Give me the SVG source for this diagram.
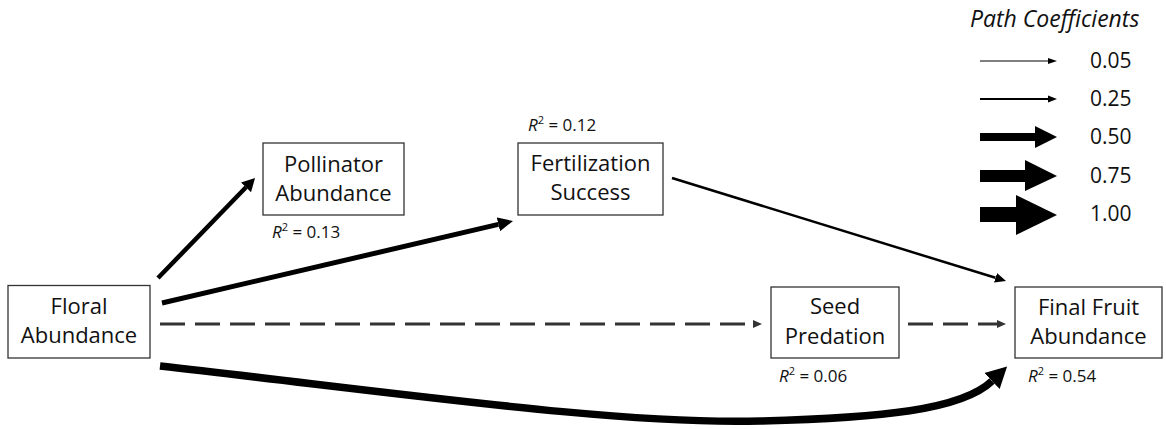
<svg xmlns="http://www.w3.org/2000/svg" width="1166" height="429" viewBox="0 0 1166 429">
<style>
.box{fill:#fff;stroke:#333;stroke-width:1.3}
.lbl{font-family:"Open Sans","Liberation Sans",sans-serif;font-size:22px;fill:#111;text-anchor:middle}
.r2{font-family:"Open Sans","Liberation Sans",sans-serif;font-size:17px;fill:#111}
.leg{font-family:"Open Sans","Liberation Sans",sans-serif;font-size:21px;fill:#111}
.legt{font-family:"Open Sans","Liberation Sans",sans-serif;font-size:23px;font-style:italic;fill:#111}
.solid{fill:none;stroke:#000}
.dash{fill:none;stroke:#333;stroke-width:3;stroke-dasharray:25 10}
</style>
<defs>
<marker id="hPol" markerUnits="userSpaceOnUse" markerWidth="14" markerHeight="16" refX="0" refY="8" orient="auto"><path d="M0,1 L13,8 L0,15 Z" fill="#000"/></marker>
<marker id="hFer" markerUnits="userSpaceOnUse" markerWidth="16" markerHeight="16" refX="0" refY="8" orient="auto"><path d="M0,1 L15,8 L0,15 Z" fill="#000"/></marker>
<marker id="hThin" markerUnits="userSpaceOnUse" markerWidth="12" markerHeight="12" refX="0" refY="6" orient="auto"><path d="M0,1 L11,6 L0,11 Z" fill="#000"/></marker>
<marker id="hDash" markerUnits="userSpaceOnUse" markerWidth="10" markerHeight="10" refX="0" refY="5" orient="auto"><path d="M0,1 L9,5 L0,9 Z" fill="#333"/></marker>
<marker id="hBig" markerUnits="userSpaceOnUse" markerWidth="22" markerHeight="26" refX="0" refY="13" orient="auto"><path d="M0,2 L21,13 L0,24 Z" fill="#000"/></marker>
</defs>

<g id="connectors">
<line class="solid" x1="158" y1="278" x2="246" y2="187.3" stroke-width="4.5" marker-end="url(#hPol)"/>
<line class="solid" x1="162" y1="303" x2="498.4" y2="224.4" stroke-width="5" marker-end="url(#hFer)"/>
<line class="solid" x1="672" y1="178" x2="995.5" y2="277.8" stroke-width="2.5" marker-end="url(#hThin)"/>
<line class="dash" x1="160" y1="324" x2="753" y2="324" marker-end="url(#hDash)"/>
<line class="dash" x1="908" y1="324" x2="997" y2="324" marker-end="url(#hDash)"/>
<path class="solid" d="M160,366 C400,393 620,425 760,421 C880,418 962,410 992,381" stroke-width="7.5" marker-end="url(#hBig)"/>
</g>

<g id="floral">
<rect class="box" x="8" y="285.5" width="142" height="72.5"/>
<text class="lbl" x="79" y="314">Floral</text>
<text class="lbl" x="79" y="343">Abundance</text>
</g>

<g id="pollinator">
<rect class="box" x="263" y="143" width="141" height="72"/>
<text class="lbl" x="333.5" y="172">Pollinator</text>
<text class="lbl" x="333.5" y="201">Abundance</text>
<text class="r2" x="272" y="238"><tspan font-style="italic">R</tspan><tspan font-size="11" dy="-7">2</tspan><tspan dy="7"> = 0.13</tspan></text>
</g>

<g id="fertilization">
<rect class="box" x="518" y="143" width="145" height="72"/>
<text class="lbl" x="590.5" y="171">Fertilization</text>
<text class="lbl" x="590.5" y="200">Success</text>
<text class="r2" x="528" y="131"><tspan font-style="italic">R</tspan><tspan font-size="11" dy="-7">2</tspan><tspan dy="7"> = 0.12</tspan></text>
</g>

<g id="seed">
<rect class="box" x="771" y="287" width="128" height="71"/>
<text class="lbl" x="835" y="314">Seed</text>
<text class="lbl" x="835" y="344">Predation</text>
<text class="r2" x="779" y="382"><tspan font-style="italic">R</tspan><tspan font-size="11" dy="-7">2</tspan><tspan dy="7"> = 0.06</tspan></text>
</g>

<g id="fruit">
<rect class="box" x="1015" y="287" width="147" height="71"/>
<text class="lbl" x="1088.5" y="315">Final Fruit</text>
<text class="lbl" x="1088.5" y="344">Abundance</text>
<text class="r2" x="1028" y="382"><tspan font-style="italic">R</tspan><tspan font-size="11" dy="-7">2</tspan><tspan dy="7"> = 0.54</tspan></text>
</g>

<g id="legend">
<text class="legt" x="970" y="27">Path Coefficients</text>
<line x1="980" y1="61" x2="1049" y2="61" stroke="#000" stroke-width="1"/>
<path d="M1048,58 L1057,61 L1048,64 Z" fill="#000"/>
<line x1="980" y1="99" x2="1049" y2="99" stroke="#000" stroke-width="2"/>
<path d="M1048,95.5 L1057,99 L1048,102.5 Z" fill="#000"/>
<rect x="980" y="133" width="56" height="8" fill="#000"/>
<path d="M1035,126 L1057,137 L1035,148 Z" fill="#000"/>
<rect x="980" y="170" width="46" height="12" fill="#000"/>
<path d="M1025,160 L1057,176 L1025,191 Z" fill="#000"/>
<rect x="980" y="207" width="37" height="15" fill="#000"/>
<path d="M1016,195 L1057,215 L1016,235 Z" fill="#000"/>
<text class="leg" x="1090" y="68">0.05</text>
<text class="leg" x="1090" y="106">0.25</text>
<text class="leg" x="1090" y="144">0.50</text>
<text class="leg" x="1090" y="183">0.75</text>
<text class="leg" x="1090" y="221">1.00</text>
</g>
</svg>
